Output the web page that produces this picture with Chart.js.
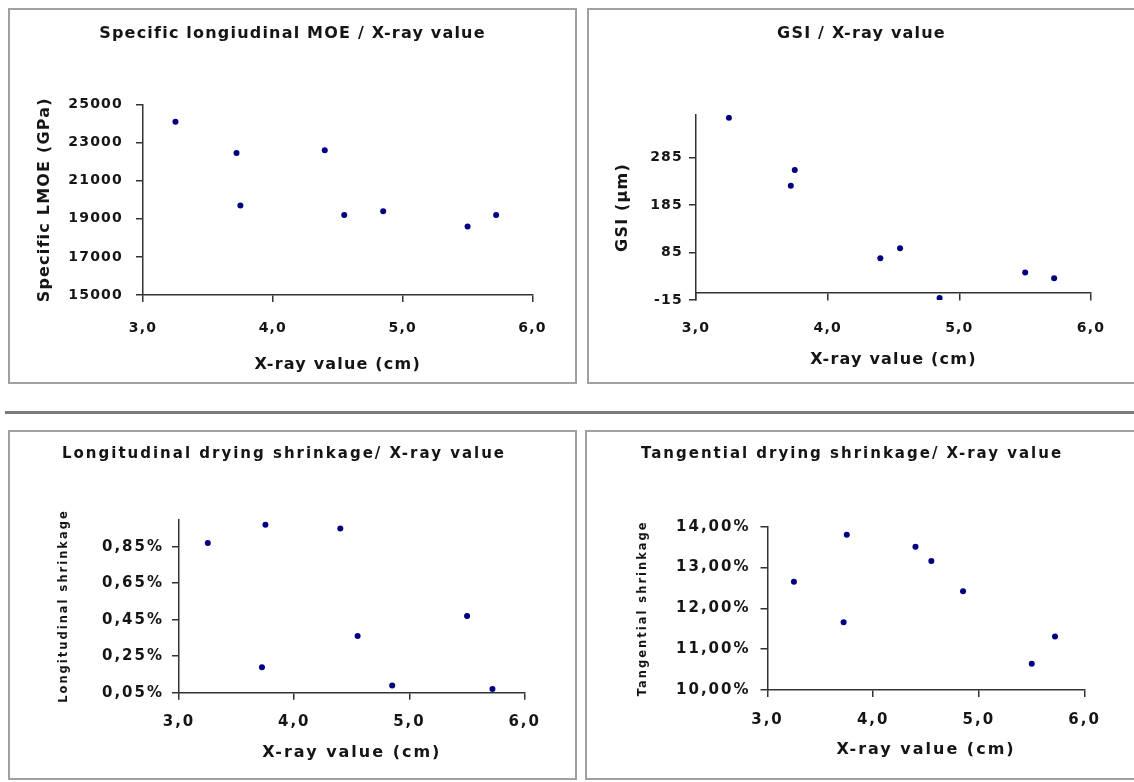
<!DOCTYPE html>
<html>
<head>
<meta charset="utf-8">
<script src="https://cdn.jsdelivr.net/npm/chart.js@4.4.1/dist/chart.umd.min.js"></script>
<style>
    html, body { margin: 0; padding: 0; background: #fff; }
    body { width: 1134px; height: 782px; position: relative; overflow: hidden; }
    .panel { position: absolute; border: 2px solid #a0a0a0; background: #fff; }
    .panel canvas { display: block; }
    #rule { position: absolute; left: 5px; top: 411px; width: 1129px; height: 3px; background: #7a7a7a; }
</style>
</head>
<body>
<div class="panel" style="left:8px;top:8px;width:565px;height:372px"><canvas id="c1" width="565" height="372"></canvas></div>
<div class="panel" style="left:587px;top:8px;width:545px;height:372px"><canvas id="c2" width="545" height="372"></canvas></div>
<div id="rule"></div>
<div class="panel" style="left:8px;top:430px;width:565px;height:346px"><canvas id="c3" width="565" height="346"></canvas></div>
<div class="panel" style="left:585px;top:430px;width:547px;height:346px"><canvas id="c4" width="547" height="346"></canvas></div>

<script>
// samples, one entry per board
var xRay    = [3.25, 3.72, 3.75, 4.40, 4.55, 4.85, 5.50, 5.72];
var moe     = [24100, 22450, 19700, 22600, 19200, 19400, 18600, 19200];
var gsi     = [369, 226, 259, 73, 94, -11, 43, 31];
var longShr = [0.87, 0.19, 0.97, 0.95, 0.36, 0.09, 0.47, 0.07];
var tangShr = [12.65, 11.66, 13.80, 13.51, 13.16, 12.42, 10.64, 11.31];

// tick positions
var xTicks    = [3, 4, 5, 6];
var moeTicks  = [15000, 17000, 19000, 21000, 23000, 25000];
var gsiTicks  = [-15, 85, 185, 285];
var longTicks = [0.05, 0.25, 0.45, 0.65, 0.85];
var tangTicks = [10, 11, 12, 13, 14];

var FONT = '"DejaVu Sans", "Liberation Sans", sans-serif';
var INK = '#151515';
var AXIS = '#333333';
var DOT = '#000080';

// canvas letter spacing, has to be set again after every resize
var letterSpacing = {
    id: 'letterSpacing',
    beforeUpdate: function (chart, args, opts) { chart.ctx.letterSpacing = opts.value || '0px'; },
    beforeDraw: function (chart, args, opts) { chart.ctx.letterSpacing = opts.value || '0px'; }
};

function points(ys) {
    return xRay.map(function (x, i) { return {x: x, y: ys[i]}; });
}
function xLabel(v) { return v.toFixed(1).replace('.', ','); }
function pctLabel(v) { return v.toFixed(2).replace('.', ',') + '%'; }
function plainLabel(v) { return String(v); }

function fixTicks(list) {
    return function (scale) {
        scale.ticks = list.map(function (v) { return {value: v}; });
    };
}
function fixWidth(w) { return function (scale) { scale.width = w; }; }
function fixHeight(h) { return function (scale) { scale.height = h; }; }
function bold(size) { return {family: FONT, size: size, weight: 'bold'}; }

function drawPanel(id, p) {
    return new Chart(document.getElementById(id), {
        type: 'scatter',
        data: {
            datasets: [{
                data: points(p.values),
                backgroundColor: DOT,
                borderWidth: 0,
                pointRadius: 3
            }]
        },
        plugins: [letterSpacing],
        options: {
            responsive: false,
            animation: false,
            events: [],
            layout: {padding: p.pad},
            plugins: {
                letterSpacing: {value: p.spacing},
                legend: {display: false},
                tooltip: {enabled: false},
                title: {
                    display: true, text: p.title, color: INK,
                    font: bold(p.titleSize), padding: p.titlePad
                }
            },
            scales: {
                x: {
                    type: 'linear', min: 3, max: 6,
                    position: p.xPos || 'bottom',
                    afterBuildTicks: fixTicks(xTicks),
                    afterFit: fixHeight(p.xHeight),
                    border: {color: AXIS, width: 1.5},
                    grid: {drawOnChartArea: false, color: AXIS, lineWidth: 1.5, tickLength: 7},
                    ticks: {
                        callback: xLabel, color: INK, font: bold(p.tickSize),
                        padding: p.xTickPad, autoSkip: false, maxRotation: 0
                    },
                    title: {
                        display: true, text: 'X-ray value (cm)', color: INK,
                        font: bold(16), padding: {top: 0, bottom: 2.4}
                    }
                },
                y: {
                    type: 'linear', min: p.yMin, max: p.yMax,
                    afterBuildTicks: fixTicks(p.yTicks),
                    afterFit: fixWidth(p.yWidth),
                    border: {color: AXIS, width: 1.5},
                    grid: {drawOnChartArea: false, color: AXIS, lineWidth: 1.5, tickLength: 7},
                    ticks: {
                        callback: p.yLabel, color: INK, font: bold(p.tickSize),
                        padding: p.yTickPad, autoSkip: false
                    },
                    title: {
                        display: true, text: p.yTitle, color: INK,
                        font: bold(p.yTitleSize), padding: {top: p.yTitleTop, bottom: 0}
                    }
                },
                // empty right axis, only keeps the plot off the right edge
                yr: {
                    type: 'linear', position: 'right',
                    afterFit: fixWidth(p.rightWidth),
                    border: {display: false},
                    grid: {display: false},
                    ticks: {display: false}
                }
            }
        }
    });
}

drawPanel('c1', {
    title: 'Specific longiudinal MOE / X-ray value',
    yTitle: 'Specific LMOE (GPa)',
    values: moe, yTicks: moeTicks, yMin: 15000, yMax: 25000, yLabel: plainLabel,
    spacing: '1.2px', titleSize: 16, tickSize: 14, yTitleSize: 16,
    pad: {top: 10, left: 10, right: 10, bottom: 5},
    titlePad: {top: 4.4, bottom: 60.9},
    yWidth: 123, rightWidth: 32.5, yTitleTop: 15.4, yTickPad: 13,
    xHeight: 82, xTickPad: 17.6
});

drawPanel('c2', {
    title: 'GSI / X-ray value',
    yTitle: 'GSI (µm)',
    values: gsi, yTicks: gsiTicks, yMin: -15, yMax: 375, yLabel: plainLabel,
    spacing: '1.2px', titleSize: 16, tickSize: 14, yTitleSize: 16,
    pad: {top: 10, left: 10, right: 10, bottom: 82},
    titlePad: {top: 4.4, bottom: 71.4},
    yWidth: 97, rightWidth: 33, yTitleTop: 14.4, yTickPad: 6,
    xPos: {y: 0}, xHeight: 79, xTickPad: 19.6
});

drawPanel('c3', {
    title: 'Longitudinal drying shrinkage/ X-ray value',
    yTitle: 'Longitudinal shrinkage',
    values: longShr, yTicks: longTicks, yMin: 0.05, yMax: 1.0, yLabel: pctLabel,
    spacing: '2px', titleSize: 15, tickSize: 15, yTitleSize: 11.5,
    pad: {top: 10, left: 10, right: 27, bottom: 13.3},
    titlePad: {top: 3, bottom: 56.3},
    yWidth: 159, rightWidth: 23.3, yTitleTop: 36.7, yTickPad: 8,
    xHeight: 72, xTickPad: 13
});

drawPanel('c4', {
    title: 'Tangential drying shrinkage/ X-ray value',
    yTitle: 'Tangential shrinkage',
    values: tangShr, yTicks: tangTicks, yMin: 10, yMax: 14, yLabel: pctLabel,
    spacing: '2px', titleSize: 15, tickSize: 15, yTitleSize: 11.5,
    pad: {top: 10, left: 10, right: 27, bottom: 16},
    titlePad: {top: 3, bottom: 63.7},
    yWidth: 170.5, rightWidth: 22.4, yTitleTop: 39.1, yTickPad: 10,
    xHeight: 72, xTickPad: 14
});
</script>
</body>
</html>
